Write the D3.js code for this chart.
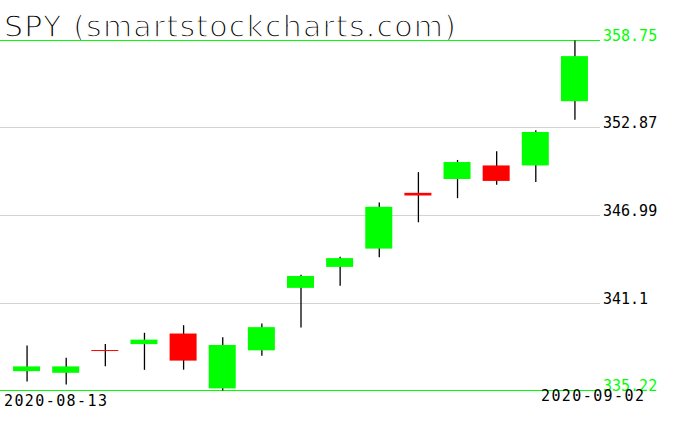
<!DOCTYPE html>
<html>
<head>
<meta charset="utf-8">
<script src="https://cdnjs.cloudflare.com/ajax/libs/d3/7.8.5/d3.min.js"></script>
<style>
    body { margin: 0; background: #ffffff; }
    text { font-family: "DejaVu Sans Mono", monospace; }
    .title { font-family: "DejaVu Sans", sans-serif; font-size: 30px; fill: #000000; stroke: #ffffff; stroke-width: 1.4px; paint-order: fill stroke; }
    .price-label { font-size: 15px; }
    .date-label { font-size: 15px; letter-spacing: 1.4px; fill: #000000; }
</style>
</head>
<body>
<div id="chart"></div>
<script>
// SPY daily candles, 2020-08-13 .. 2020-09-02
var dates  = ["2020-08-13", "2020-08-14", "2020-08-17", "2020-08-18", "2020-08-19",
              "2020-08-20", "2020-08-21", "2020-08-24", "2020-08-25", "2020-08-26",
              "2020-08-27", "2020-08-28", "2020-08-31", "2020-09-01", "2020-09-02"];
var opens  = [336.52, 336.41, 337.94, 338.34, 339.05, 335.36, 337.92, 342.12, 343.53, 344.76, 348.51, 349.44, 350.35, 350.35, 354.67];
var highs  = [338.25, 337.42, 338.34, 339.10, 339.61, 338.80, 339.72, 343.00, 344.21, 347.86, 349.90, 350.72, 351.30, 352.71, 358.75];
var lows   = [335.83, 335.62, 336.85, 336.61, 336.62, 335.22, 337.55, 339.45, 342.27, 344.17, 346.53, 348.15, 349.06, 349.24, 353.43];
var closes = [336.84, 336.84, 337.91, 338.64, 337.23, 338.28, 339.48, 342.92, 344.12, 347.57, 348.33, 350.58, 349.31, 352.60, 357.70];

var priceTicks = [335.22, 341.1, 346.99, 352.87, 358.75];
var dateLabels = ["2020-08-13", "2020-09-02"];

function draw_candles(id_tag, width, height)
{
    var data = dates.map(function(d, i) {
        return {date: d, open: opens[i], high: highs[i], low: lows[i], close: closes[i]};
    });

    var x = d3.scaleBand()
        .domain(dates)
        .range([7, 594]);

    var y = d3.scaleLinear()
        .domain([priceTicks[0], priceTicks[priceTicks.length - 1]])
        .range([390.5, 40.5]);

    var bodyWidth = x.bandwidth() * 0.69;

    var svg = d3.select("#" + id_tag).append("svg")
        .attr("width", width)
        .attr("height", height);

    // title: white stroke over the fill thins the glyphs
    svg.append("text")
        .attr("class", "title")
        .attr("x", 4)
        .attr("y", 37)
        .attr("textLength", 452)
        .attr("lengthAdjust", "spacing")
        .text("SPY (smartstockcharts.com)");

    // horizontal price lines; first and last are green
    var grid = svg.append("g").selectAll("g")
        .data(priceTicks)
        .enter().append("g");
    grid.append("line")
        .attr("x1", 0)
        .attr("x2", 600)
        .attr("y1", function(d) { return Math.round(y(d) - 0.5) + 0.5; })
        .attr("y2", function(d) { return Math.round(y(d) - 0.5) + 0.5; })
        .style("stroke", function(d, i) { return (i == 0 || i == priceTicks.length - 1) ? "#00ff00" : "#d3d3d3"; })
        .style("stroke-width", 1);
    grid.append("text")
        .attr("class", "price-label")
        .attr("x", 603)
        .attr("y", function(d) { return y(d) + 0.5; })
        .style("fill", function(d, i) { return (i == 0 || i == priceTicks.length - 1) ? "#00ff00" : "#000000"; })
        .text(function(d) { return +d.toFixed(2) + ""; });

    var candle = svg.append("g").selectAll("g")
        .data(data)
        .enter().append("g")
        .attr("transform", function(d) { return "translate(" + (x(d.date) + x.bandwidth() / 2) + ",0)"; });

    candle.append("line")
        .attr("x1", 0.5)
        .attr("x2", 0.5)
        .attr("y1", function(d) { return y(d.high); })
        .attr("y2", function(d) { return y(d.low); })
        .style("stroke", "#000000")
        .style("stroke-width", 1.3);

    candle.append("rect")
        .attr("x", -bodyWidth / 2)
        .attr("width", bodyWidth)
        .attr("y", function(d) { return y(Math.max(d.open, d.close)); })
        .attr("height", function(d) { return Math.max(1, Math.abs(y(d.open) - y(d.close))); })
        .style("fill", function(d) { return d.close >= d.open ? "#00ff00" : "#ff0000"; });

    // first and last dates under the axis
    svg.append("text")
        .attr("class", "date-label")
        .attr("x", 4)
        .attr("y", 406)
        .text(dateLabels[0]);
    svg.append("text")
        .attr("class", "date-label")
        .attr("x", 541)
        .attr("y", 401)
        .text(dateLabels[1]);
}

draw_candles("chart", 676, 431);
</script>
</body>
</html>
